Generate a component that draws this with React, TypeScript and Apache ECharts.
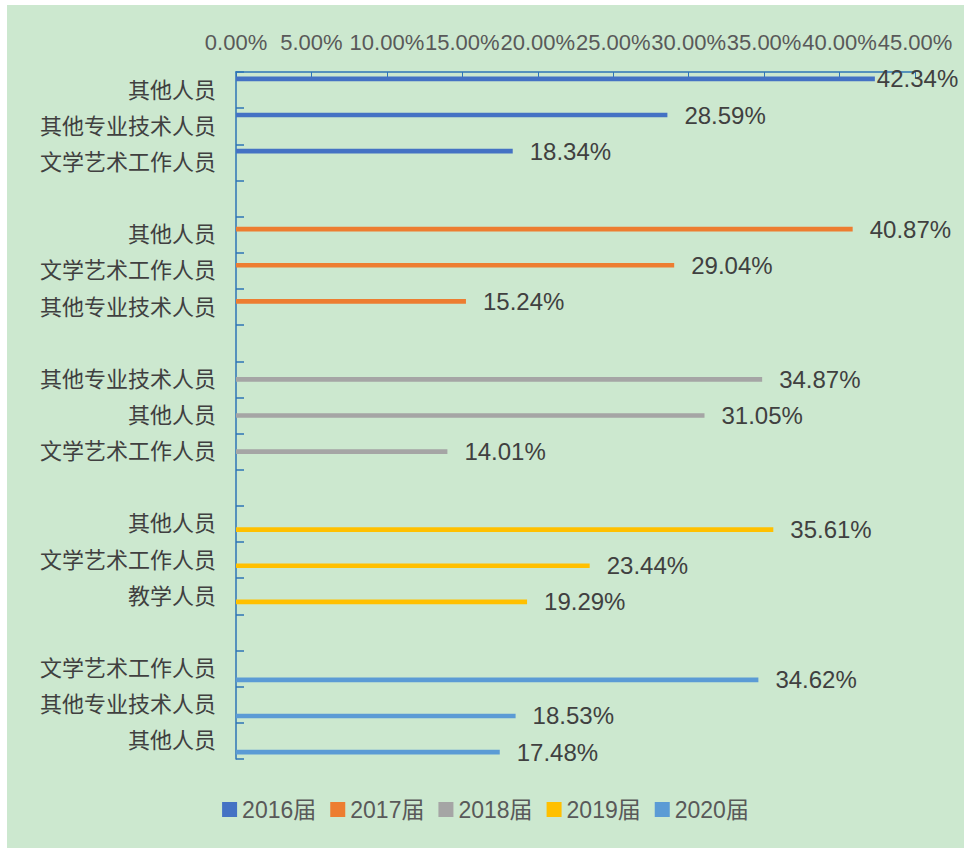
import React, { useEffect, useRef } from "react";
import * as echarts from "echarts";

const years = ["2016届", "2017届", "2018届", "2019届", "2020届"];
const colors = ["#4472C4", "#ED7D31", "#A5A5A5", "#FFC000", "#5B9BD5"];

const names2016 = ["其他人员", "其他专业技术人员", "文学艺术工作人员"];
const values2016 = [42.34, 28.59, 18.34];
const names2017 = ["其他人员", "文学艺术工作人员", "其他专业技术人员"];
const values2017 = [40.87, 29.04, 15.24];
const names2018 = ["其他专业技术人员", "其他人员", "文学艺术工作人员"];
const values2018 = [34.87, 31.05, 14.01];
const names2019 = ["其他人员", "文学艺术工作人员", "教学人员"];
const values2019 = [35.61, 23.44, 19.29];
const names2020 = ["文学艺术工作人员", "其他专业技术人员", "其他人员"];
const values2020 = [34.62, 18.53, 17.48];

const xTicks = [0, 5, 10, 15, 20, 25, 30, 35, 40, 45];

const groupNames = [names2016, names2017, names2018, names2019, names2020];
const groupValues = [values2016, values2017, values2018, values2019, values2020];

const FONT = "'Liberation Sans', Arial, 'Noto Sans CJK SC', sans-serif";

export default function App() {
  const ref = useRef<HTMLDivElement>(null);
  useEffect(() => {
    if (!ref.current) return;
    const chart = echarts.init(ref.current, null, { renderer: "svg" });

    const categories: string[] = [];
    const seriesData: (any)[][] = years.map(() => []);
    groupNames.forEach((names, g) => {
      if (g > 0) {
        categories.push("");
        seriesData.forEach((d) => d.push(null));
      }
      names.forEach((n, i) => {
        categories.push(n);
        seriesData.forEach((d, s) => {
          if (s === g) {
            const v = groupValues[g][i];
            const isMaxOverflow = v > 42;
            d.push(
              isMaxOverflow
                ? { value: v, label: { distance: 2 } }
                : v
            );
          } else d.push(null);
        });
      });
    });

    const axisColor = "#2E75B6";

    chart.setOption({
      animation: false,
      backgroundColor: "#CCE8CF",
      textStyle: { fontFamily: FONT },
      grid: { left: 229, right: 49, top: 67, bottom: 89, containLabel: false },
      legend: {
        data: years,
        bottom: 22,
        left: "center",
        icon: "rect",
        itemWidth: 15,
        itemHeight: 15,
        itemGap: 14,
        textStyle: { fontSize: 23, color: "#595959", fontFamily: FONT },
      },
      xAxis: {
        type: "value",
        position: "top",
        min: xTicks[0],
        max: xTicks[xTicks.length - 1],
        interval: 5,
        axisLine: { show: true, lineStyle: { color: axisColor, width: 1.5 } },
        axisTick: { show: true, inside: true, length: 6, lineStyle: { color: axisColor } },
        splitLine: { show: false },
        axisLabel: {
          fontSize: 22,
          color: "#595959",
          margin: 19,
          showMaxLabel: true,
          showMinLabel: true,
          hideOverlap: false,
          formatter: (v: number) => v.toFixed(2) + "%",
        },
      },
      yAxis: {
        type: "category",
        inverse: true,
        data: categories,
        axisLine: { show: true, lineStyle: { color: axisColor, width: 1.5 } },
        axisTick: { show: true, inside: true, length: 8, lineStyle: { color: axisColor, width: 1.5 } },
        axisLabel: { fontSize: 22, color: "#404040", margin: 20, interval: 0 },
      },
      series: years.map((y, s) => ({
        name: y,
        type: "bar",
        data: seriesData[s],
        itemStyle: { color: colors[s] },
        barGap: "20%",
        barCategoryGap: "25%",
        label: {
          show: true,
          position: "right",
          distance: 17,
          fontSize: 24,
          color: "#404040",
          formatter: (p: any) => Number(p.value).toFixed(2) + "%",
        },
      })),
    });
    return () => chart.dispose();
  }, []);
  return (
    <div
      ref={ref}
      style={{ position: "absolute", left: 7, top: 5, width: 957, height: 843 }}
    />
  );
}
